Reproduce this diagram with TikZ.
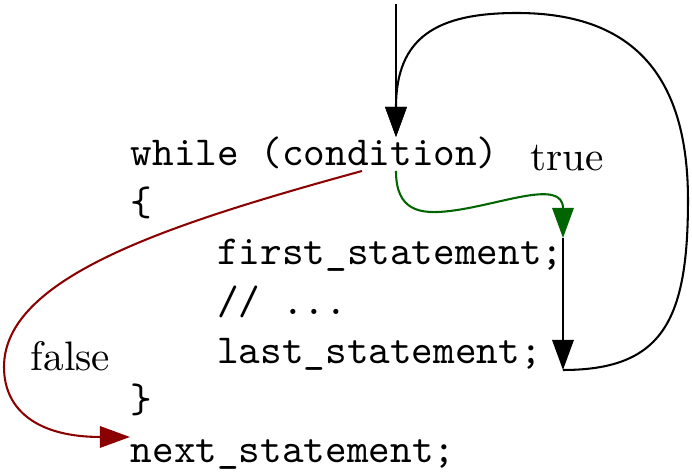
\documentclass[tikz,border=0pt]{standalone}
\usetikzlibrary{arrows.meta}
\definecolor{falsered}{RGB}{139,0,0}
\definecolor{truegreen}{RGB}{0,100,0}
\begin{document}
\begin{tikzpicture}[x=0.24272pt, y=-0.24272pt,
  code/.style={font=\ttfamily, anchor=base west, inner sep=0pt},
  lbl/.style={anchor=base west, inner sep=0pt},
  conn/.style={line width=0.5pt, -{Triangle[length=7.3pt,width=5.2pt]}},
]
\useasboundingbox (0,0) rectangle (692,475);
% code lines
\node[code] (while) at (130,165.7) {while (condition)};
\node[code] (open)  at (130,215.15) {\{};
\node[code] (first) at (216.5,264.6) {first\_statement;};
\node[code] (dots)  at (216.5,314.05) {// ...};
\node[code] (last)  at (216.5,363.5) {last\_statement;};
\node[code] (close) at (130,412.95) {\}};
\node[code] (next)  at (130,462.4) {next\_statement;};
% labels
\node[lbl] (true)  at (530,171) {true};
\node[lbl] (false) at (30,371) {false};
% connector points
\coordinate (top) at (396,4);
\coordinate (cin) at (396,137);
\coordinate (gs)  at (396,171);
\coordinate (gm)  at (450,211);
\coordinate (fs)  at (563,238);
\coordinate (ls)  at (563,370);
\coordinate (lr)  at (688,200);
\coordinate (lt)  at (517,13);
\coordinate (rs)  at (362,171);
\coordinate (rm)  at (4,367);
\coordinate (nx)  at (130,437);
% connectors
\draw[conn] (top) -- (cin);
\draw[conn] (ls) .. controls (663,370) and (688,320) .. (lr)
                 .. controls (688,80) and (637,13) .. (lt)
                 .. controls (437,13) and (396,37) .. (cin);
\draw[conn, truegreen] (gs) .. controls (396,211) and (420,214.6) .. (gm)
                 .. controls (500,205) and (563,178) .. (fs);
\draw[conn] (fs) -- (ls);
\draw[conn, falsered] (rs) .. controls (169,224) and (4,277) .. (rm)
                 .. controls (4,412) and (40,437) .. (nx);
\end{tikzpicture}
\end{document}
